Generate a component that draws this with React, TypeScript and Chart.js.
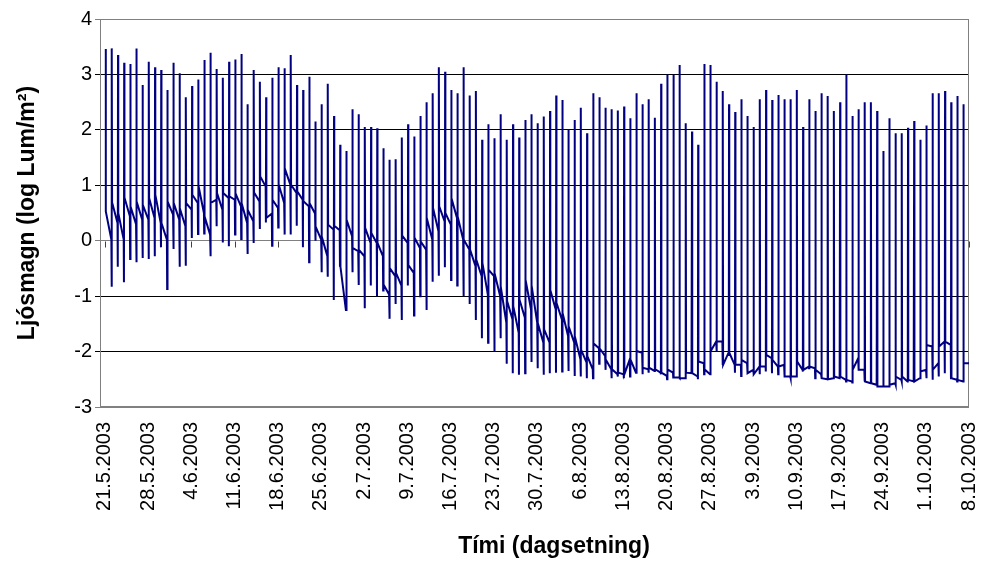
import { useEffect, useRef } from "react";
import { Chart, registerables } from "chart.js";

Chart.register(...registerables);

const tickLabels = [
  "21.5.2003", "28.5.2003", "4.6.2003", "11.6.2003", "18.6.2003", "25.6.2003",
  "2.7.2003", "9.7.2003", "16.7.2003", "23.7.2003", "30.7.2003", "6.8.2003",
  "13.8.2003", "20.8.2003", "27.8.2003", "3.9.2003", "10.9.2003", "17.9.2003",
  "24.9.2003", "1.10.2003", "8.10.2003",
];
// days after 21.5.2003 for each tick label
const tickDays = [0, 7, 14, 21, 28, 35, 42, 49, 56, 63, 70, 77, 84, 91, 98, 105, 112, 119, 126, 133, 140];

const yTitle = "Ljósmagn (log Lum/m²)";
const xTitle = "Tími (dagsetning)";

// time of the daily light peak, in days, relative to each day's start
const peakTimeOfDay = 0.12;

// daily maximum (log Lum/m2)
const dayPeak = [
  3.46, 3.47, 3.35, 3.21, 3.19, 3.47, 2.81, 3.23, 3.13, 3.08, 2.72, 3.21, 3.02, 2.59, 2.79, 2.91, 3.26, 3.39, 3.10, 2.94, 3.23, 3.27, 3.37,
  2.46, 3.08, 2.87, 2.59, 2.94, 3.13, 3.11, 3.35, 2.81, 2.72, 2.96, 2.15, 2.46, 2.83, 2.25, 1.73, 1.62, 2.37, 2.28, 2.05, 2.05, 2.03, 1.67, 1.46,
  1.47, 1.86, 2.10, 1.88, 2.25, 2.50, 2.66, 3.13, 3.05, 2.72, 2.66, 3.13, 2.62, 2.70, 1.82, 2.10, 1.85, 2.28, 1.82, 2.10, 1.86, 2.18, 2.28,
  2.12, 2.24, 2.34, 2.62, 2.54, 2.01, 2.18, 2.40, 1.94, 2.66, 2.59, 2.40, 2.37, 2.35, 2.42, 2.21, 2.66, 2.46, 2.55, 2.22, 2.83, 3.00, 3.00,
  3.17, 2.12, 1.97, 1.73, 3.19, 3.17, 2.87, 2.70, 2.46, 2.32, 2.55, 2.25, 2.05, 2.55, 2.72, 2.54, 2.63, 2.55, 2.55, 2.72, 2.05, 2.55, 2.34, 2.66,
  2.61, 2.34, 2.50, 3.00, 2.25, 2.37, 2.50, 2.50, 2.34, 1.62, 2.21, 1.94, 1.94, 2.04, 2.16, 1.82, 2.08, 2.66, 2.66, 2.70, 2.50, 2.61, 2.46,
];

// lowest reading just before the peak
const dayDip = [
  0.53, -0.83, -0.47, -0.75, -0.33, -0.39, -0.31, -0.33, -0.28, -0.12, -0.87, -0.15, -0.47, -0.45, 0.05, 0.12, 0.13, -0.28, 0.26, -0.03, -0.10, 0.11, 0.03,
  -0.24, -0.04, 0.21, 0.33, -0.09, 0.24, 0.11, 0.11, 0.27, -0.12, -0.39, 0.00, -0.57, -0.65, -1.07, -0.47, -1.25, -0.57, -0.80, -1.22, -0.81, -1.00, -0.90, -1.41,
  -1.14, -1.43, -0.81, -1.35, -1.00, -1.25, -0.74, -0.63, -0.48, -0.71, -0.81, -1.00, -1.14, -1.43, -1.76, -1.84, -2.00, -1.76, -2.22, -2.39, -2.42, -2.39, -2.19,
  -2.30, -2.42, -2.39, -2.38, -2.36, -2.35, -2.44, -2.45, -2.48, -2.48, -2.22, -2.33, -2.48, -2.45, -2.48, -2.45, -2.38, -2.41, -2.38, -2.35, -2.41, -2.50, -2.47,
  -2.48, -2.39, -2.39, -2.50, -2.41, -2.41, -2.00, -2.24, -2.08, -2.38, -2.44, -2.39, -2.41, -2.41, -2.36, -2.39, -2.41, -2.39, -2.48, -2.41, -2.36, -2.30, -2.48, -2.48,
  -2.50, -2.48, -2.48, -2.54, -2.56, -2.33, -2.54, -2.56, -2.60, -2.63, -2.63, -2.60, -2.54, -2.51, -2.54, -2.48, -2.48, -2.51, -2.45, -2.39, -2.50, -2.54, -2.54,
];

// level right after the peak (evening)
const dayDusk = [
  0.53, 0.69, 0.50, 0.78, 0.62, 0.71, 0.65, 0.77, 0.83, 0.32, 0.71, 0.69, 0.59, 0.68, 0.83, 1.00, 0.44, 0.68, 0.86, 0.86, 0.80, 0.86, 0.68,
  0.56, 0.87, 1.16, 0.41, 0.74, 1.02, 1.31, 1.01, 0.89, 0.71, 0.68, 0.26, 0.08, 0.29, 0.27, -0.47, 0.38, -0.13, -0.16, 0.23, 0.14, -0.04, -0.79, -0.49,
  -0.58, 0.09, -0.44, 0.06, -0.01, 0.42, 0.59, 0.62, 0.50, 0.77, 0.44, 0.02, -0.16, -0.34, -0.40, -0.52, -0.58, -0.82, -1.09, -1.18, -1.06, -0.70, -0.80,
  -1.48, -1.60, -0.89, -1.12, -1.30, -1.54, -1.72, -1.97, -2.08, -1.85, -1.94, -2.14, -2.32, -2.38, -2.41, -2.14, -1.99, -2.29, -2.29, -2.32, -2.38, -2.32, -2.47,
  -2.48, -2.38, -2.39, -2.18, -2.32, -2.00, -1.82, -2.24, -2.02, -2.24, -2.15, -2.39, -2.41, -2.27, -2.06, -2.15, -2.27, -2.45, -2.45, -2.18, -2.33, -2.27, -2.33, -2.48,
  -2.50, -2.45, -2.45, -2.51, -2.33, -2.33, -2.54, -2.57, -2.63, -2.63, -2.60, -2.45, -2.45, -2.51, -2.54, -2.36, -1.88, -2.33, -1.91, -1.82, -2.48, -2.51, -2.21,
];

// level at the end of the night, before the next peak
const dayDawn = [
  0.02, 0.32, 0.02, 0.44, 0.30, 0.38, 0.38, 0.41, 0.32, 0.02, 0.47, 0.38, 0.26, 0.56, 0.68, 0.50, 0.11, 0.74, 0.56, 0.77, 0.74, 0.62, 0.32,
  0.35, 0.71, 0.98, 0.49, 0.59, 0.68, 1.01, 0.86, 0.74, 0.62, 0.49, 0.02, -0.28, 0.20, 0.19, -1.25, 0.08, -0.19, -0.28, -0.04, -0.04, -0.28, -0.97, -0.64,
  -0.81, -0.04, -0.58, -0.13, -0.16, 0.02, 0.17, 0.35, 0.29, 0.41, 0.02, -0.16, -0.46, -0.64, -0.97, -0.64, -1.00, -1.48, -1.42, -1.66, -1.39, -1.24, -1.48,
  -1.84, -1.84, -1.24, -1.42, -1.72, -1.84, -2.14, -2.20, -2.32, -1.94, -2.08, -2.32, -2.41, -2.41, -2.14, -2.38, -2.02, -2.32, -2.35, -2.38, -2.44, -2.38, -2.47,
  -2.48, -2.39, -2.45, -2.21, -2.41, -1.82, -1.82, -2.02, -2.24, -2.24, -2.21, -2.33, -2.27, -2.27, -2.12, -2.27, -2.24, -2.45, -2.45, -2.33, -2.27, -2.30, -2.41, -2.50,
  -2.48, -2.48, -2.51, -2.54, -2.12, -2.33, -2.57, -2.60, -2.63, -2.63, -2.57, -2.51, -2.54, -2.54, -2.48, -2.33, -1.91, -2.21, -1.82, -1.88, -2.51, -2.54, -2.21,
];

const FONT = '"Liberation Sans", Arial, Helvetica, sans-serif';

export default function App() {
  const ref = useRef<HTMLCanvasElement>(null);

  useEffect(() => {
    if (!ref.current) return;
    Chart.defaults.font.family = FONT;

    const n = Math.min(dayPeak.length, dayDip.length, dayDusk.length, dayDawn.length);
    const pts: { x: number; y: number }[] = [];
    for (let k = 0; k < n; k++) {
      const t = k + peakTimeOfDay;
      pts.push({ x: t - 0.04, y: dayDip[k] });
      pts.push({ x: t, y: dayPeak[k] });
      pts.push({ x: t + 0.04, y: dayDusk[k] });
      pts.push({ x: t + 0.92, y: dayDawn[k] });
    }

    const decor = {
      id: "decor",
      beforeDatasetsDraw(chart: any) {
        const { ctx, chartArea: a, scales } = chart;
        ctx.save();
        ctx.strokeStyle = "#808080";
        ctx.lineWidth = 1;
        ctx.strokeRect(a.left + 0.5, a.top + 0.5, a.right - a.left - 1, a.bottom - a.top - 1);
        const y0 = Math.round(scales.y.getPixelForValue(0)) + 0.5;
        ctx.beginPath();
        for (const d of tickDays) {
          const x = Math.round(scales.x.getPixelForValue(d)) + 0.5;
          ctx.moveTo(x, y0);
          ctx.lineTo(x, y0 + 6);
        }
        ctx.strokeStyle = "#404040";
        ctx.stroke();
        ctx.restore();
      },
      afterDraw(chart: any) {
        const { ctx } = chart;
        ctx.save();
        ctx.font = `bold 23px ${FONT}`;
        ctx.fillStyle = "#000";
        ctx.textAlign = "center";
        ctx.textBaseline = "middle";
        ctx.fillText(xTitle, 554, 547);
        ctx.restore();
      },
    };

    const chart = new Chart(ref.current, {
      type: "line",
      data: {
        datasets: [
          {
            data: pts,
            borderColor: "#000080",
            borderWidth: 2,
            pointRadius: 0,
            tension: 0,
            fill: false,
          },
        ],
      },
      options: {
        animation: false,
        responsive: false,
        maintainAspectRatio: false,
        devicePixelRatio: 1,
        layout: { padding: { left: 0, right: 28, top: 19, bottom: 0 } },
        plugins: { legend: { display: false }, tooltip: { enabled: false } },
        scales: {
          x: {
            type: "linear",
            min: -0.8,
            max: 140,
            afterBuildTicks: (s: any) => {
              s.ticks = tickDays.map((v) => ({ value: v }));
            },
            afterFit: (s: any) => {
              s.height = 565 - 407;
              s.paddingLeft = 0;
              s.paddingRight = 0;
            },
            grid: { display: false, drawTicks: false },
            border: { display: false },
            ticks: {
              autoSkip: false,
              minRotation: 90,
              maxRotation: 90,
              padding: 15,
              color: "#000",
              font: { size: 20 },
              callback: (v: any) => tickLabels[tickDays.indexOf(Number(v))] ?? "",
            },
          },
          y: {
            min: -3,
            max: 4,
            afterFit: (s: any) => {
              s.width = 100;
              s.paddingTop = 0;
              s.paddingBottom = 0;
            },
            ticks: { stepSize: 1, padding: 3, color: "#000", font: { size: 20 } },
            grid: {
              color: (c: any) => {
                const v = c.tick?.value;
                return v === 0 || v === 4 || v === -3 ? "#808080" : "#000000";
              },
              tickLength: 5,
              lineWidth: 1,
            },
            border: { display: true, color: "#808080" },
            title: {
              display: true,
              text: yTitle,
              color: "#000",
              font: { size: 23, weight: "bold" },
              padding: { top: 14, bottom: 0 },
            },
          },
        },
      },
      plugins: [decor],
    } as any);

    return () => chart.destroy();
  }, []);

  return (
    <div style={{ position: "fixed", left: 0, top: 0, width: 997, height: 565, background: "#fff" }}>
      <canvas ref={ref} width={997} height={565} style={{ width: 997, height: 565, display: "block" }} />
    </div>
  );
}
